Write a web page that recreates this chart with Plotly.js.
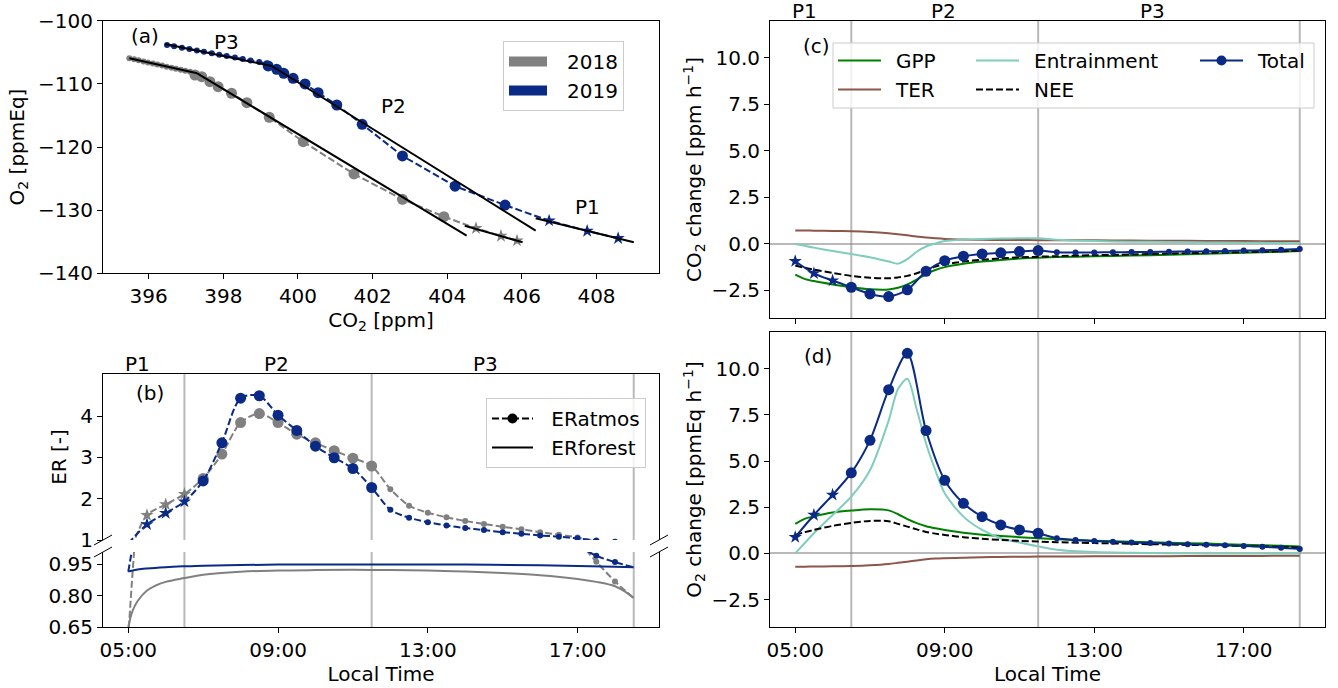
<!DOCTYPE html>
<html><head><meta charset="utf-8">
<script src="https://cdn.plot.ly/plotly-3.0.1.min.js"></script>
<style>html,body{margin:0;padding:0;background:#fff;} #chart{width:1338px;height:688px;}</style>
</head><body><div id="chart"></div>
<script>
// ================= DATA =================
// ---- Panel (a): O2 vs CO2 (P1 = stars, P2 = big circles, P3 = small dots), in time order
const co2_2018_p1 = [405.87, 405.44, 404.77];
const o2_2018_p1  = [-134.83, -134.09, -132.87];
const co2_2018_p2 = [403.91, 402.80, 401.50, 400.14, 399.23, 398.63, 398.22, 397.86, 397.64, 397.42, 397.24];
const o2_2018_p2  = [-131.03, -128.28, -124.27, -119.16, -115.29, -112.98, -111.49, -110.45, -109.66, -108.87, -108.60];
const co2_2018_p3 = [397.11, 396.98, 396.86, 396.73, 396.61, 396.48, 396.36, 396.23, 396.11, 395.98, 395.86, 395.73, 395.61, 395.48];
const o2_2018_p3  = [-108.09, -107.93, -107.78, -107.60, -107.44, -107.28, -107.11, -106.95, -106.78, -106.62, -106.46, -106.28, -106.12, -105.95];

const co2_2019_p1 = [408.58, 407.75, 406.73];
const o2_2019_p1  = [-134.45, -133.30, -131.67];
const co2_2019_p2 = [405.55, 404.21, 402.80, 401.72, 401.04, 400.54, 400.19, 399.87, 399.62, 399.43, 399.20];
const o2_2019_p2  = [-129.20, -126.20, -121.42, -116.40, -113.35, -111.40, -110.02, -109.12, -108.33, -107.70, -107.17];
const co2_2019_p3 = [399.16, 398.96, 398.73, 398.52, 398.31, 398.09, 397.89, 397.69, 397.48, 397.29, 397.09, 396.89, 396.68, 396.49];
const o2_2019_p3  = [-106.75, -106.54, -106.29, -106.05, -105.83, -105.59, -105.38, -105.16, -104.93, -104.72, -104.50, -104.27, -104.05, -103.85];

// fitted lines per period (start, end)
const fit2018_co2 = [[395.48, 397.30], [397.30, 404.52], [404.47, 406.02]];
const fit2018_o2  = [[-105.95, -108.33], [-108.33, -134.04], [-132.46, -135.09]];
const fit2019_co2 = [[396.44, 399.30], [399.30, 406.37], [406.37, 409.00]];
const fit2019_o2  = [[-103.69, -107.17], [-107.17, -133.25], [-131.29, -135.09]];
const co2Ticks = [396, 398, 400, 402, 404, 406, 408];
const o2Ticks = [-140, -130, -120, -110, -100];
const o2TickText = ['\u2212140', '\u2212130', '\u2212120', '\u2212110', '\u2212100'];

// ---- Time axis helpers (decimal hours)
const timeTicks = [5, 9, 13, 17];
const timeTickText = ['05:00', '09:00', '13:00', '17:00'];
const periodBounds = [6.5, 11.5, 18.5];
const periodLabels = ['P1', 'P2', 'P3'];
const periodLabelTime = [5.25, 8.97, 14.55];

// ---- Panel (b): ER
const erTime = [5, 5.5, 6, 6.5, 7, 7.5, 8, 8.5, 9, 9.5, 10, 10.5, 11, 11.5, 12, 12.5, 13, 13.5, 14, 14.5, 15, 15.5, 16, 16.5, 17, 17.5, 18, 18.5];
const erAtmos2019 = [0.915, 1.38, 1.65, 1.93, 2.43, 3.35, 4.43, 4.49, 4.02, 3.65, 3.27, 2.99, 2.73, 2.27, 1.73, 1.54, 1.43, 1.35, 1.29, 1.24, 1.19, 1.15, 1.11, 1.08, 1.04, 0.99, 0.96, 0.935];
const erAtmos2018 = [0.60, 1.60, 1.86, 2.11, 2.49, 3.08, 3.84, 4.06, 3.84, 3.56, 3.35, 3.16, 2.98, 2.79, 2.23, 1.83, 1.66, 1.55, 1.46, 1.39, 1.32, 1.26, 1.19, 1.13, 1.06, 0.962, 0.868, 0.789];
const erForestTime2019 = [5, 5.25, 5.5, 6, 6.5, 7, 8, 9, 10, 12, 14, 16, 17, 18, 18.5];
const erForest2019 = [0.915, 0.925, 0.930, 0.936, 0.940, 0.943, 0.946, 0.948, 0.949, 0.949, 0.948, 0.945, 0.942, 0.938, 0.935];
const erForestTime2018 = [5, 5.05, 5.12, 5.25, 5.5, 5.75, 6, 6.5, 7, 8, 9, 10, 11.5, 13, 14, 15, 16, 17, 17.5, 18, 18.25, 18.5];
const erForest2018 = [0.65, 0.69, 0.73, 0.775, 0.825, 0.85, 0.866, 0.884, 0.90, 0.914, 0.92, 0.922, 0.923, 0.92, 0.915, 0.908, 0.898, 0.88, 0.866, 0.845, 0.822, 0.789];

// ---- Panels (c) and (d): budget terms
const modelTime = [5, 5.25, 5.5, 6, 6.5, 7, 7.5, 7.75, 8, 8.25, 8.5, 8.75, 9, 9.5, 10, 10.5, 11, 11.5, 12, 13, 14, 15, 16, 17, 18, 18.5];
const co2GPP  = [-1.65, -1.88, -2.00, -2.18, -2.33, -2.44, -2.45, -2.36, -2.18, -1.92, -1.62, -1.40, -1.25, -1.07, -0.95, -0.86, -0.79, -0.74, -0.71, -0.67, -0.63, -0.58, -0.53, -0.48, -0.42, -0.38];
const co2TER  = [0.72, 0.72, 0.71, 0.70, 0.68, 0.64, 0.57, 0.52, 0.46, 0.40, 0.34, 0.30, 0.27, 0.24, 0.22, 0.21, 0.21, 0.20, 0.20, 0.19, 0.18, 0.17, 0.16, 0.15, 0.14, 0.14];
const co2Ent  = [0.00, -0.10, -0.20, -0.38, -0.54, -0.72, -0.95, -1.06, -0.82, -0.42, -0.14, 0.02, 0.15, 0.23, 0.27, 0.29, 0.30, 0.30, 0.22, 0.15, 0.12, 0.10, 0.08, 0.06, 0.05, 0.04];
const co2NEE  = [-1.16, -1.28, -1.38, -1.56, -1.72, -1.82, -1.85, -1.80, -1.72, -1.58, -1.40, -1.22, -1.10, -0.95, -0.85, -0.78, -0.72, -0.69, -0.66, -0.61, -0.57, -0.52, -0.48, -0.44, -0.39, -0.36];
const o2GPP   = [1.60, 1.87, 2.00, 2.21, 2.32, 2.39, 2.33, 2.12, 1.85, 1.64, 1.47, 1.36, 1.27, 1.12, 1.01, 0.94, 0.88, 0.82, 0.77, 0.69, 0.63, 0.58, 0.53, 0.47, 0.41, 0.38];
const o2TER   = [-0.72, -0.72, -0.71, -0.70, -0.68, -0.64, -0.57, -0.51, -0.45, -0.38, -0.32, -0.28, -0.26, -0.23, -0.21, -0.19, -0.18, -0.17, -0.17, -0.16, -0.15, -0.15, -0.14, -0.14, -0.13, -0.13];
const o2Ent   = [0.00, 0.55, 1.09, 2.08, 3.07, 4.50, 7.19, 8.90, 9.45, 7.80, 5.95, 4.50, 3.25, 1.99, 1.27, 0.82, 0.59, 0.38, 0.20, 0.07, 0.03, 0.01, 0.00, 0.00, 0.00, 0.00];
const o2NEE   = [1.00, 1.15, 1.27, 1.49, 1.65, 1.76, 1.74, 1.60, 1.45, 1.30, 1.16, 1.07, 1.00, 0.88, 0.79, 0.73, 0.68, 0.64, 0.61, 0.56, 0.52, 0.48, 0.44, 0.40, 0.35, 0.32];
const totalTime = [5, 5.5, 6, 6.5, 7, 7.5, 8, 8.5, 9, 9.5, 10, 10.5, 11, 11.5, 12, 12.5, 13, 13.5, 14, 14.5, 15, 15.5, 16, 16.5, 17, 17.5, 18, 18.5];
const co2Total = [-0.93, -1.58, -1.97, -2.33, -2.69, -2.83, -2.47, -1.47, -0.90, -0.66, -0.54, -0.48, -0.41, -0.36, -0.45, -0.46, -0.46, -0.45, -0.44, -0.43, -0.42, -0.41, -0.40, -0.38, -0.36, -0.34, -0.31, -0.27];
const o2Total  = [0.88, 2.08, 3.17, 4.36, 6.12, 8.86, 10.83, 6.65, 3.96, 2.71, 1.99, 1.54, 1.27, 1.09, 0.82, 0.72, 0.67, 0.63, 0.59, 0.56, 0.53, 0.50, 0.47, 0.44, 0.40, 0.36, 0.31, 0.24];
const budgetTicks = [-2.5, 0, 2.5, 5, 7.5, 10];
const budgetTickText = ['\u22122.5', '0.0', '2.5', '5.0', '7.5', '10.0'];

// ================= STYLE =================
const W = 1338, H = 688;
const NAVY = '#0b2a85', GRAY = '#808080', GREEN = '#008000', BROWN = '#8c564b', TEAL = '#7fcdbb';
const FONT = {family: 'DejaVu Sans, Verdana, sans-serif', size: 20, color: '#000'};
const DASH = '7px,3px';
const px = v => v / W, py = v => 1 - v / H;
const XA = [px(103), px(659)];
const XC = [px(770), px(1325)];
const YA = [py(273.3), py(20.7)];
const YBU = [py(540), py(374)];
const YBL = [py(627.3), py(552)];
const YC = [py(318.3), py(20.7)];
const YD = [py(627.3), py(331.7)];
const TR = [4.325, 19.175];

function ax(extra) {
  return Object.assign({
    showline: true, linecolor: '#000', linewidth: 1, mirror: true,
    ticks: 'outside', ticklen: 5, tickwidth: 1, tickcolor: '#000',
    showgrid: false, zeroline: false, tickfont: FONT, fixedrange: true, automargin: false
  }, extra);
}

const traces = [];
const pick = (arr, idx) => idx.map(i => arr[i]);

// ---------- panel (a)
function panelA(p1x, p1y, p2x, p2y, p3x, p3y, col) {
  traces.push({x: p1x.concat(p2x, p3x), y: p1y.concat(p2y, p3y), xaxis: 'x', yaxis: 'y', mode: 'lines',
    line: {color: col, width: 2, dash: DASH}, showlegend: false, hoverinfo: 'skip'});
  traces.push({x: p1x, y: p1y, xaxis: 'x', yaxis: 'y', mode: 'markers', marker: {symbol: 'star', size: 10, color: col}, showlegend: false});
  traces.push({x: p2x, y: p2y, xaxis: 'x', yaxis: 'y', mode: 'markers', marker: {symbol: 'circle', size: 11, color: col}, showlegend: false});
  traces.push({x: p3x, y: p3y, xaxis: 'x', yaxis: 'y', mode: 'markers', marker: {symbol: 'circle', size: 6, color: col}, showlegend: false});
}
panelA(co2_2018_p1, o2_2018_p1, co2_2018_p2, o2_2018_p2, co2_2018_p3, o2_2018_p3, GRAY);
panelA(co2_2019_p1, o2_2019_p1, co2_2019_p2, o2_2019_p2, co2_2019_p3, o2_2019_p3, NAVY);
[[fit2018_co2, fit2018_o2], [fit2019_co2, fit2019_o2]].forEach(([fx, fy]) => {
  fx.forEach((seg, i) => traces.push({x: seg, y: fy[i], xaxis: 'x', yaxis: 'y', mode: 'lines',
    line: {color: '#000', width: 2}, showlegend: false, hoverinfo: 'skip'}));
});
const PADA = '\u2002\u2005';
traces.push({x: [null], y: [null], xaxis: 'x', yaxis: 'y', mode: 'lines', name: PADA + '2018', line: {color: GRAY, width: 12}, legend: 'legend'});
traces.push({x: [null], y: [null], xaxis: 'x', yaxis: 'y', mode: 'lines', name: PADA + '2019', line: {color: NAVY, width: 12}, legend: 'legend'});

// ---------- panel (b)
function erClass(t) { return t <= 5 ? 'none' : t <= 6.5 ? 'star' : t <= 11.5 ? 'big' : t < 18.5 ? 'dot' : 'none'; }
function panelB(vals, col) {
  [['x3', 'y3'], ['x2', 'y2']].forEach(([xa, ya]) => {
    traces.push({x: erTime, y: vals, xaxis: xa, yaxis: ya, mode: 'lines',
      line: {color: col, width: 2, dash: DASH, shape: 'spline', smoothing: 0.8}, showlegend: false, hoverinfo: 'skip'});
    const groups = {star: [10, 'star'], big: [11, 'circle'], dot: [6, 'circle']};
    Object.keys(groups).forEach(k => {
      const idx = erTime.map((t, i) => erClass(t) === k ? i : -1).filter(i => i >= 0);
      traces.push({x: pick(erTime, idx), y: pick(vals, idx), xaxis: xa, yaxis: ya, mode: 'markers',
        marker: {symbol: groups[k][1], size: groups[k][0], color: col}, showlegend: false});
    });
  });
}
panelB(erAtmos2018, GRAY);
panelB(erAtmos2019, NAVY);
traces.push({x: erForestTime2018, y: erForest2018, xaxis: 'x2', yaxis: 'y2', mode: 'lines', line: {color: GRAY, width: 2, shape: 'spline'}, showlegend: false});
traces.push({x: erForestTime2019, y: erForest2019, xaxis: 'x2', yaxis: 'y2', mode: 'lines', line: {color: NAVY, width: 2, shape: 'spline'}, showlegend: false});
const PADB = '\u2002\u2006';
traces.push({x: [null], y: [null], xaxis: 'x2', yaxis: 'y2', mode: 'lines+markers', name: PADB + 'ERatmos', line: {color: '#000', width: 2, dash: DASH}, marker: {size: 10, color: '#000'}, legend: 'legend2'});
traces.push({x: [null], y: [null], xaxis: 'x2', yaxis: 'y2', mode: 'lines', name: PADB + 'ERforest', line: {color: '#000', width: 2}, legend: 'legend2'});

// ---------- panels (c) and (d)
function totClass(t) { return t < 6.5 ? 'star' : t <= 11.5 ? 'big' : 'dot'; }
function panelCD(xa, ya, gpp, ter, ent, nee, tot) {
  const ln = (y, col, dash) => traces.push({x: modelTime, y: y, xaxis: xa, yaxis: ya, mode: 'lines',
    line: {color: col, width: 2, dash: dash || 'solid', shape: 'spline', smoothing: 0.8}, showlegend: false, hoverinfo: 'skip'});
  ln(gpp, GREEN); ln(ter, BROWN); ln(ent, TEAL); ln(nee, '#000', DASH);
  traces.push({x: totalTime, y: tot, xaxis: xa, yaxis: ya, mode: 'lines',
    line: {color: NAVY, width: 2, shape: 'spline', smoothing: 0.8}, showlegend: false, hoverinfo: 'skip'});
  const groups = {star: [10, 'star'], big: [11, 'circle'], dot: [6, 'circle']};
  Object.keys(groups).forEach(k => {
    const idx = totalTime.map((t, i) => totClass(t) === k ? i : -1).filter(i => i >= 0);
    traces.push({x: pick(totalTime, idx), y: pick(tot, idx), xaxis: xa, yaxis: ya, mode: 'markers',
      marker: {symbol: groups[k][1], size: groups[k][0], color: NAVY}, showlegend: false});
  });
}
panelCD('x4', 'y4', co2GPP, co2TER, co2Ent, co2NEE, co2Total);
panelCD('x5', 'y5', o2GPP, o2TER, o2Ent, o2NEE, o2Total);
const PADC = '\u2002';
const leg = (name, col, dash, lg, mode) => traces.push({x: [null], y: [null], xaxis: 'x4', yaxis: 'y4', mode: mode || 'lines', name: PADC + name,
  line: {color: col, width: 2, dash: dash || 'solid'}, marker: {size: 10, color: col}, legend: lg});
leg('GPP', GREEN, null, 'legend3'); leg('TER', BROWN, null, 'legend3');
leg('Entrainment', TEAL, null, 'legend4'); leg('NEE', '#000', DASH, 'legend4');
leg('Total', NAVY, null, 'legend5', 'lines+markers');

// ================= LAYOUT =================
const shapes = [];
[['x2', 'y2 domain'], ['x3', 'y3 domain'], ['x4', 'y4 domain'], ['x5', 'y5 domain']].forEach(([xr, yr]) => {
  periodBounds.forEach(t => shapes.push({type: 'line', xref: xr, yref: yr, x0: t, x1: t, y0: 0, y1: 1,
    line: {color: 'rgba(128,128,128,0.55)', width: 2}, layer: 'below'}));
});
// broken-axis marks
const dx = 9 / W, dy = 5 / H;
[XA[0], XA[1]].forEach(xx => [YBU[0], YBL[1]].forEach(yy => shapes.push({type: 'line', xref: 'paper', yref: 'paper',
  x0: xx - dx, x1: xx + dx, y0: yy - dy, y1: yy + dy, line: {color: '#000', width: 1}})));
// legend frame of panel (c)
shapes.push({type: 'rect', xref: 'paper', yref: 'paper', x0: px(833), x1: px(1314), y0: py(108), y1: py(43),
  line: {color: '#cccccc', width: 1}, fillcolor: 'rgba(255,255,255,0.8)', layer: 'above'});

const annotations = [];
const ann = (xr, yr, x, y, text, extra) => annotations.push(Object.assign({xref: xr, yref: yr, x: x, y: y, text: text,
  showarrow: false, font: FONT}, extra || {}));
ann('x', 'y', 395.9, -102.5, '(a)');
ann('x', 'y', 398.09, -103.3, 'P3');
ann('x', 'y', 402.55, -113.5, 'P2');
ann('x', 'y', 407.75, -129.55, 'P1');
ann('x3', 'y3', 5.59, 4.56, '(b)');
ann('x4', 'y4', 5.58, 10.66, '(c)');
ann('x5', 'y5', 5.6, 10.69, '(d)');
periodLabels.forEach((lab, i) => {
  ann('x3', 'y3 domain', periodLabelTime[i], 1, lab, {yanchor: 'bottom', height: 18, borderpad: 0, yshift: 0});
  ann('x4', 'y4 domain', periodLabelTime[i], 1, lab, {yanchor: 'bottom', height: 18, borderpad: 0, yshift: 0});
});

const legBase = {font: FONT, bgcolor: 'rgba(0,0,0,0)', borderwidth: 0, xref: 'paper', yref: 'paper', xanchor: 'left', yanchor: 'top', tracegroupgap: 0};
const layout = {
  width: W, height: H,
  margin: {l: 0, r: 0, t: 0, b: 0},
  paper_bgcolor: '#fff', plot_bgcolor: '#fff',
  font: FONT,
  hovermode: false,
  xaxis: ax({domain: XA, anchor: 'y', range: [394.775, 409.675], tickvals: co2Ticks,
    title: {text: 'CO<sub>2</sub> [ppm]', font: FONT, standoff: 4}}),
  yaxis: ax({domain: YA, anchor: 'x', range: [-140, -100], tickvals: o2Ticks, ticktext: o2TickText,
    title: {text: 'O<sub>2</sub> [ppmEq]', font: FONT, standoff: 8}}),
  xaxis2: ax({domain: XA, anchor: 'y2', range: TR, tickvals: timeTicks, ticktext: timeTickText, mirror: false,
    title: {text: 'Local Time', font: FONT, standoff: 2}}),
  yaxis2: ax({domain: YBL, anchor: 'x2', range: [0.65, 1.008], tickvals: [0.65, 0.8, 0.95], ticktext: ['0.65', '0.80', '0.95']}),
  xaxis3: ax({domain: XA, anchor: 'y3', range: TR, side: 'top', mirror: false, ticks: '', showticklabels: false}),
  yaxis3: ax({domain: YBU, anchor: 'x3', range: [1, 5.016], tickvals: [1, 2, 3, 4],
    title: {text: 'ER [-]', font: FONT, standoff: 8}}),
  xaxis4: ax({domain: XC, anchor: 'y4', range: TR, tickvals: timeTicks, showticklabels: false}),
  yaxis4: ax({domain: YC, anchor: 'x4', range: [-4, 12], tickvals: budgetTicks, ticktext: budgetTickText,
    zeroline: true, zerolinecolor: 'rgba(128,128,128,0.55)', zerolinewidth: 2,
    title: {text: 'CO<sub>2</sub> change [ppm h<sup>\u22121</sup>]', font: FONT, standoff: 4}}),
  xaxis5: ax({domain: XC, anchor: 'y5', range: TR, tickvals: timeTicks, ticktext: timeTickText,
    title: {text: 'Local Time', font: FONT, standoff: 2}}),
  yaxis5: ax({domain: YD, anchor: 'x5', range: [-4, 12], tickvals: budgetTicks, ticktext: budgetTickText,
    zeroline: true, zerolinecolor: 'rgba(128,128,128,0.55)', zerolinewidth: 2,
    title: {text: 'O<sub>2</sub> change [ppmEq h<sup>\u22121</sup>]', font: FONT, standoff: 4}}),
  legend: Object.assign({}, legBase, {x: px(503), y: py(41), itemwidth: 38, bgcolor: 'rgba(255,255,255,0.8)', bordercolor: '#cccccc', borderwidth: 1}),
  legend2: Object.assign({}, legBase, {x: px(486), y: py(398), itemwidth: 41, bgcolor: 'rgba(255,255,255,0.8)', bordercolor: '#cccccc', borderwidth: 1}),
  legend3: Object.assign({}, legBase, {x: px(833), y: py(41), itemwidth: 43}),
  legend4: Object.assign({}, legBase, {x: px(971), y: py(41), itemwidth: 43}),
  legend5: Object.assign({}, legBase, {x: px(1195), y: py(41), itemwidth: 43}),
  shapes: shapes,
  annotations: annotations
};
Plotly.newPlot('chart', traces, layout, {staticPlot: true, displayModeBar: false});
</script>
</body></html>
